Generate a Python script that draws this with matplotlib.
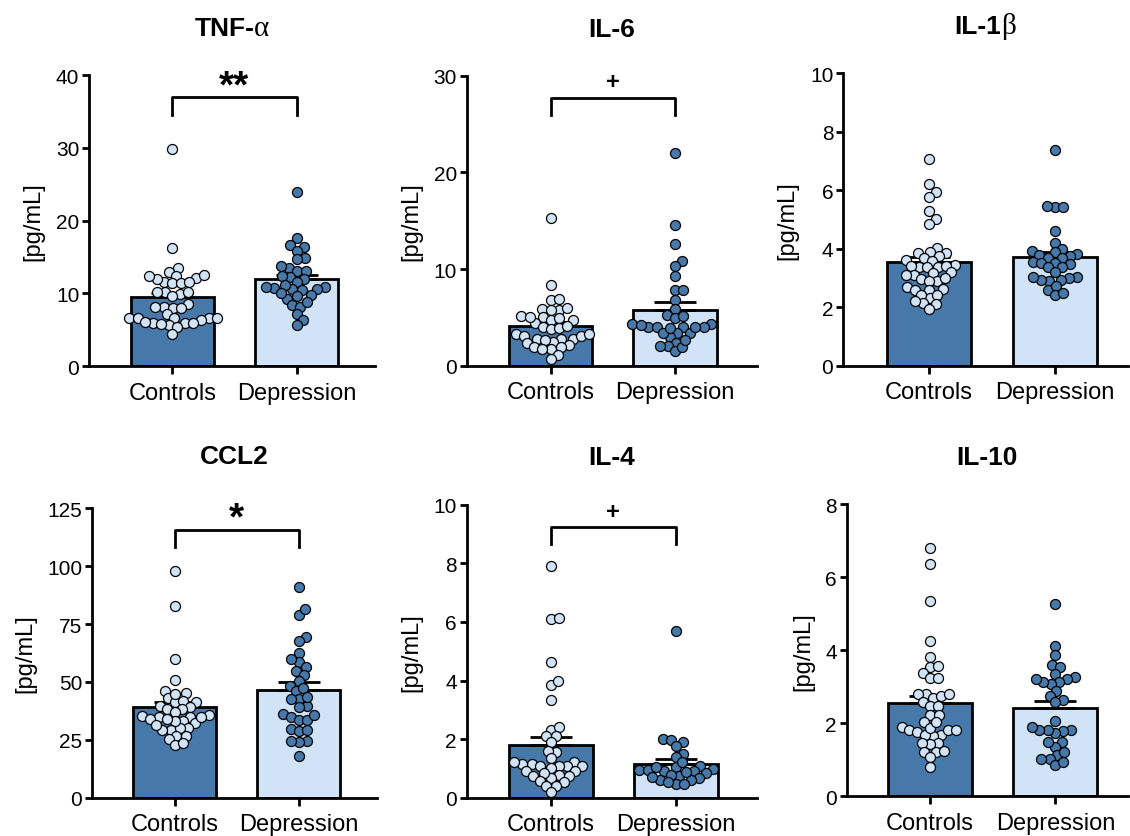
import numpy as np
import matplotlib.pyplot as plt

plt.rcParams['font.family'] = ['Liberation Sans', 'DejaVu Sans']

W, H = 1130, 837
groups = ['Controls', 'Depression']
dark = '#4679A9'
light = '#D1E4F7'

# values
tnf_ctrl = [29.8, 16.2, 13.5, 13.0, 12.4, 12.1, 11.6, 11.4, 11.4, 11.6, 12.0, 12.4, 12.5,
            9.9, 10.2, 10.2, 10.2, 9.6, 8.6, 8.2, 8.2, 8.0, 8.0, 7.2, 6.7, 6.6, 6.6, 6.6,
            6.7, 6.3, 5.9, 5.9, 5.7, 5.4, 5.8, 6.0, 6.1, 4.5]
tnf_dep = [24.0, 17.6, 16.4, 16.6, 15.9, 14.9, 14.7, 13.5, 13.8, 13.1, 13.1, 12.2, 12.0,
           12.4, 11.6, 10.9, 10.7, 10.6, 10.5, 10.6, 10.9, 11.2, 9.8, 9.2, 10.0, 9.7, 8.4,
           8.2, 8.8, 7.2, 6.4, 5.7]
tnf_mean = [9.5, 12.0]
tnf_sem = [0.6, 0.6]

il6_ctrl = [15.3, 8.4, 6.8, 6.9, 5.9, 5.8, 5.8, 6.0, 5.0, 4.7, 4.4, 5.1, 4.7, 4.9, 5.0, 4.0,
            3.8, 3.9, 4.1, 3.3, 3.1, 2.8, 2.8, 2.5, 2.3, 2.7, 2.8, 3.1, 3.3, 1.9, 1.7, 2.1,
            1.7, 1.9, 1.1, 0.7]
il6_dep = [22.0, 14.6, 12.6, 10.8, 10.3, 9.3, 7.8, 7.8, 6.8, 5.9, 5.2, 4.9, 4.3, 4.3, 5.1,
           4.0, 4.0, 4.0, 3.4, 3.4, 3.0, 3.4, 3.9, 4.0, 4.0, 4.2, 2.4, 2.0, 1.5, 1.9, 2.0, 2.7]
il6_mean = [4.1, 5.8]
il6_sem = [0.45, 0.8]

il1b_ctrl = [7.06, 6.2, 5.93, 5.77, 5.27, 5.0, 4.85, 4.03, 3.9, 3.86, 3.86, 3.75, 3.69, 3.61,
             3.59, 3.44, 3.38, 3.36, 3.36, 3.39, 3.42, 3.15, 3.1, 3.1, 3.19, 2.96, 2.9, 2.9,
             3.0, 2.69, 2.6, 2.6, 2.62, 2.31, 2.43, 2.41, 2.14, 2.11, 2.2, 1.94]
il1b_dep = [7.37, 5.41, 5.41, 5.47, 4.59, 4.19, 3.99, 3.91, 3.87, 3.83, 3.76, 3.78, 3.68, 3.67,
            3.55, 3.51, 3.46, 3.51, 3.36, 3.36, 3.04, 2.98, 2.94, 2.9, 2.94, 3.04, 3.21, 2.6,
            2.73, 2.43, 2.48]
il1b_mean = [3.55, 3.71]
il1b_sem = [0.16, 0.16]

ccl2_ctrl = [97.8, 83.0, 59.8, 51.0, 45.2, 46.2, 42.9, 41.5, 41.2, 41.9, 44.8, 39.0, 38.3,
             39.7, 38.3, 35.7, 35.0, 35.0, 35.4, 36.9, 34.0, 33.3, 32.1, 30.2, 29.4, 29.4,
             30.0, 31.5, 33.0, 34.0, 26.8, 25.3, 26.8, 22.9, 23.5, 34.7]
ccl2_dep = [91.2, 78.9, 81.4, 69.3, 67.7, 62.4, 58.5, 59.7, 56.6, 54.6, 53.2, 50.3, 48.4,
            45.9, 47.2, 42.6, 39.6, 39.0, 42.6, 43.3, 36.0, 34.7, 33.6, 33.6, 35.7, 29.7,
            28.8, 29.2, 24.3, 24.0, 24.7, 18.1]
ccl2_mean = [39.0, 46.5]
ccl2_sem = [2.2, 3.3]

il4_ctrl = [7.92, 6.09, 6.14, 4.64, 3.86, 3.99, 3.32, 2.32, 2.41, 2.1, 2.1, 1.89, 1.56, 1.6,
            1.34, 1.21, 1.14, 1.07, 1.14, 1.21, 1.07, 1.07, 1.07, 1.02, 0.91, 0.91, 0.77,
            0.73, 0.68, 0.73, 0.84, 0.58, 0.52, 0.39, 0.39, 0.18]
il4_dep = [5.69, 1.91, 2.0, 1.98, 1.75, 1.49, 1.38, 1.09, 1.04, 0.96, 0.92, 0.92, 0.94, 0.98,
           1.04, 1.21, 0.83, 0.73, 0.68, 0.61, 0.47, 0.47, 0.61, 0.71, 0.78, 0.89, 0.52]
il4_mean = [1.80, 1.15]
il4_sem = [0.27, 0.17]

il10_ctrl = [6.81, 6.37, 5.34, 4.25, 3.81, 3.53, 3.58, 3.37, 3.24, 3.24, 2.81, 2.81, 2.68,
             2.76, 2.81, 2.59, 2.47, 2.47, 2.24, 2.24, 2.03, 1.89, 1.81, 1.77, 1.68, 1.64,
             1.68, 1.81, 1.83, 1.88, 2.03, 1.45, 1.43, 1.45, 1.22, 1.22, 1.24, 1.07, 0.79]
il10_dep = [5.27, 4.13, 3.87, 3.61, 3.53, 3.34, 3.28, 3.21, 3.14, 3.08, 3.14, 3.21, 2.89,
            2.74, 2.64, 2.58, 2.06, 1.83, 1.79, 1.74, 1.81, 1.81, 1.91, 1.48, 1.36, 1.48,
            1.14, 1.02, 0.86, 0.93, 1.02, 1.21]
il10_mean = [2.55, 2.41]
il10_sem = [0.21, 0.20]

# name, greek suffix, data, ylim, ticks, significance
panels = [
    ('TNF-', 'α', tnf_ctrl, tnf_dep, tnf_mean, tnf_sem, 40, [0, 10, 20, 30, 40],
     ('**', 37.0, 34.5, 38.4, 28)),
    ('IL-6', '', il6_ctrl, il6_dep, il6_mean, il6_sem, 30, [0, 10, 20, 30],
     ('+', 27.7, 25.9, 29.4, 17)),
    ('IL-1', 'β', il1b_ctrl, il1b_dep, il1b_mean, il1b_sem, 10, [0, 2, 4, 6, 8, 10], None),
    ('CCL2', '', ccl2_ctrl, ccl2_dep, ccl2_mean, ccl2_sem, 125, [0, 25, 50, 75, 100, 125],
     ('*', 115.6, 108.3, 120.6, 28)),
    ('IL-4', '', il4_ctrl, il4_dep, il4_mean, il4_sem, 10, [0, 2, 4, 6, 8, 10],
     ('+', 9.25, 8.66, 9.78, 17)),
    ('IL-10', '', il10_ctrl, il10_dep, il10_mean, il10_sem, 8, [0, 2, 4, 6, 8], None),
]

# axes boxes in pixels: left, y of zero, top, right ; x limits ; title y
boxes = [
    (89, 367.3, 76, 375, (-0.67, 1.63), 29),
    (466.7, 366.7, 76.7, 757, (-0.675, 1.66), 30),
    (843, 366.7, 74, 1128, (-0.685, 1.58), 27),
    (92, 798.7, 509.3, 377, (-0.667, 1.63), 457),
    (466.7, 798.7, 505.7, 757, (-0.675, 1.65), 458),
    (846.7, 797.3, 505.3, 1128, (-0.666, 1.58), 458),
]


def swarm(ax, xc, vals, d):
    # simple beeswarm in pixel space, d = spacing between point centres in px
    vals = np.asarray(vals, float)
    pix = ax.transData.transform(np.column_stack([np.full(len(vals), xc), vals]))
    x0 = pix[0, 0]
    ys = pix[:, 1]
    order = np.argsort(ys)
    placed = []
    xs = np.zeros(len(vals))
    for i in order:
        y = ys[i]
        cands = [0.0]
        near = [(px, py) for px, py in placed if abs(py - y) < d]
        for px, py in near:
            dx = np.sqrt(d * d - (py - y) ** 2)
            cands += [px + dx + 0.01, px - dx - 0.01]
        cands.sort(key=abs)
        for c in cands:
            if all((c - px) ** 2 + (y - py) ** 2 >= d * d - 0.05 for px, py in near):
                break
        placed.append((c, y))
        xs[i] = x0 + c
    data = ax.transData.inverted().transform(np.column_stack([xs, ys]))
    return data[:, 0]


fig = plt.figure(figsize=(W / 100, H / 100), dpi=100)
renderer = fig.canvas.get_renderer()

for (name, greek, ctrl, dep, mean, sem, ymax, ticks, sig), (L, B, T, R, xl, ty) in zip(panels, boxes):
    ax = fig.add_axes([L / W, 1 - B / H, (R - L) / W, (B - T) / H])
    ax.set_xlim(*xl)
    ax.set_ylim(0, ymax)
    ax.bar([0, 1], mean, width=0.67, color=[dark, light], edgecolor='black',
           linewidth=2.0, zorder=2)
    ax.errorbar([0, 1], mean, yerr=[[0, 0], sem], fmt='none', ecolor='black',
                elinewidth=2.0, capsize=15, capthick=2.0, zorder=3)
    xa = swarm(ax, 0, ctrl, 8.2)
    xb = swarm(ax, 1, dep, 8.2)
    ax.scatter(xa, ctrl, s=52, color=light, edgecolors='black', linewidths=0.9,
               zorder=4, clip_on=False)
    ax.scatter(xb, dep, s=52, color=dark, edgecolors='black', linewidths=0.9,
               zorder=4, clip_on=False)

    for s in ['top', 'right']:
        ax.spines[s].set_visible(False)
    for s in ['left', 'bottom']:
        ax.spines[s].set_linewidth(2.0)
    ax.set_yticks(ticks)
    ax.set_xticks([0, 1])
    ax.set_xticklabels(groups, fontsize=17)
    ax.tick_params(axis='y', labelsize=15, width=2.0, length=5, pad=2)
    ax.tick_params(axis='x', width=2.0, length=6, pad=5)
    ax.set_ylabel('[pg/mL]', fontsize=17, labelpad=8)

    if sig:
        lab, top, leg, sy, fs = sig
        ax.plot([0, 0, 1, 1], [leg, top, top, leg], color='black', lw=2.0,
                clip_on=False, zorder=5)
        ax.text(0.5, sy, lab, ha='center', va='center', fontsize=fs,
                fontweight='bold', clip_on=False)

    # title: bold part plus greek letter in a serif face
    xc = (L + R) / 2
    t1 = fig.text(0, 1 - ty / H, name, fontsize=19, fontweight='bold',
                  ha='left', va='center')
    w1 = t1.get_window_extent(renderer).width
    w2 = 0
    if greek:
        t2 = fig.text(0, 1 - ty / H, greek, fontsize=21, family='Liberation Serif',
                      ha='left', va='center')
        w2 = t2.get_window_extent(renderer).width
        t2.set_x((xc - (w1 + w2) / 2 + w1) / W)
    t1.set_x((xc - (w1 + w2) / 2) / W)

fig.savefig('out.png', dpi=100)
